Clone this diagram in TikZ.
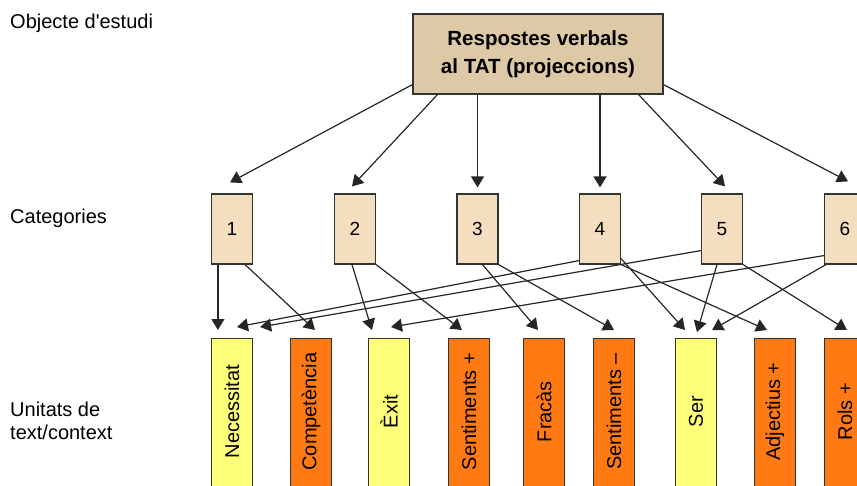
\documentclass[tikz,border=0pt]{standalone}
\usepackage{fontspec}
\setmainfont{Liberation Sans}
\usetikzlibrary{arrows.meta}

\definecolor{topfill}{HTML}{DDC9A5}
\definecolor{catfill}{HTML}{F3DFC0}
\definecolor{orangefill}{HTML}{FF7A12}
\definecolor{yellowfill}{HTML}{FFFF7A}

\tikzset{
  catbox/.style={draw=black!80, fill=catfill, line width=1.2pt, minimum width=41pt,
    minimum height=70pt, inner sep=0pt, font=\fontsize{19}{22}\selectfont},
  unitbox/.style={draw=black!80, line width=1.2pt, minimum width=41pt,
    minimum height=152pt, inner sep=0pt, anchor=north},
  unittext/.style={yshift=3pt, inner sep=0pt, font=\fontsize{20}{22}\selectfont},
  sidetext/.style={align=left, inner sep=0pt, font=\fontsize{20}{23.3}\selectfont},
  arr/.style={-{Triangle[length=11pt,width=13pt]}, line width=1.2pt, black!85},
}

\begin{document}
\begin{tikzpicture}[x=1pt, y=-1pt]
\useasboundingbox (0,0) rectangle (857,485);
\clip (0,0) rectangle (857,485);

% level labels
\node[sidetext, anchor=base west] (lobj) at (10,28.5) {Objecte d\textquotesingle estudi};
\node[sidetext, anchor=base west] (lcat) at (10,223) {Categories};
\node[sidetext, anchor=west] (lunit) at (10,421) {Unitats de\\text/context};

% object of study
\node[draw=black!80, fill=topfill, line width=1.2pt, minimum width=250pt, minimum height=80pt,
  align=center, font=\bfseries\fontsize{20.5}{28.5}\selectfont] (top) at (538,54)
  {Respostes verbals\\al TAT (projeccions)};

% categories
\foreach \i/\x in {1/232, 2/355, 3/477.5, 4/600, 5/722, 6/845}
  \node[catbox] (c\i) at (\x,229) {\i};

% units
\node[unitbox, fill=yellowfill, label={[unittext]center:\rotatebox{90}{Necessitat}}] (u1) at (232,338) {};
\node[unitbox, fill=orangefill, label={[unittext]center:\rotatebox{90}{Competència}}] (u2) at (311,338) {};
\node[unitbox, fill=yellowfill, label={[unittext]center:\rotatebox{90}{Èxit}}] (u3) at (389,338) {};
\node[unitbox, fill=orangefill, label={[unittext]center:\rotatebox{90}{Sentiments +}}] (u4) at (469,338) {};
\node[unitbox, fill=orangefill, label={[unittext]center:\rotatebox{90}{Fracàs}}] (u5) at (544,338) {};
\node[unitbox, fill=orangefill, label={[unittext]center:\rotatebox{90}{Sentiments –}}] (u6) at (614,338) {};
\node[unitbox, fill=yellowfill, label={[unittext]center:\rotatebox{90}{Ser}}] (u7) at (696,338) {};
\node[unitbox, fill=orangefill, label={[unittext]center:\rotatebox{90}{Adjectius +}}] (u8) at (775,338) {};
\node[unitbox, fill=orangefill, label={[unittext]center:\rotatebox{90}{Rols +}}] (u9) at (845,338) {};

% object -> categories
\draw[arr] ([yshift=10pt]top.south west) -- ([xshift=-2pt,yshift=11pt]c1.north);
\draw[arr] ([xshift=25pt]top.south west) -- ([xshift=-3pt,yshift=7pt]c2.north);
\draw[arr] (top.south -| c3.north) -- ([yshift=6pt]c3.north);
\draw[arr] (top.south -| c4.north) -- ([yshift=6pt]c4.north);
\draw[arr] ([xshift=-25pt]top.south east) -- ([xshift=3pt,yshift=7pt]c5.north);
\draw[arr] ([yshift=10pt]top.south east) -- ([xshift=3pt,yshift=12pt]c6.north);

% categories -> units
\draw[arr] ([xshift=7pt]c1.south west) -- ([xshift=7pt,yshift=8pt]u1.north west);
\draw[arr] ([xshift=-8pt]c1.south east) -- ([xshift=4pt,yshift=8pt]u2.north);
\draw[arr] ([xshift=-3pt]c2.south) -- ([xshift=4pt,yshift=8pt]u3.north west);
\draw[arr] (c2.south east) -- ([xshift=-7pt,yshift=8pt]u4.north);
\draw[arr] ([xshift=5pt]c3.south) -- ([xshift=-6pt,yshift=8pt]u5.north);
\draw[arr] (c3.south east) -- ([yshift=8pt]u6.north);
\draw[arr] ([yshift=6pt]c4.south east) -- ([xshift=-11pt,yshift=8pt]u7.north);
\draw[arr] (c4.south east) -- ([xshift=-8pt,yshift=8pt]u8.north);
\draw[arr] ([yshift=4pt]c4.south west) -- ([xshift=5pt,yshift=11pt]u1.north);
\draw[arr] ([xshift=-5pt]c5.south) -- ([xshift=1pt,yshift=6pt]u7.north);
\draw[arr] (c5.south east) -- ([xshift=2pt,yshift=8pt]u9.north);
\draw[arr] ([yshift=14pt]c5.south west) -- ([xshift=7pt,yshift=11pt]u1.north east);
\draw[arr] ([xshift=2pt]c6.south west) -- ([xshift=-5pt,yshift=8pt]u7.north east);
\draw[arr] ([yshift=9pt]c6.south west) -- ([xshift=2pt,yshift=11pt]u3.north);
\end{tikzpicture}
\end{document}
